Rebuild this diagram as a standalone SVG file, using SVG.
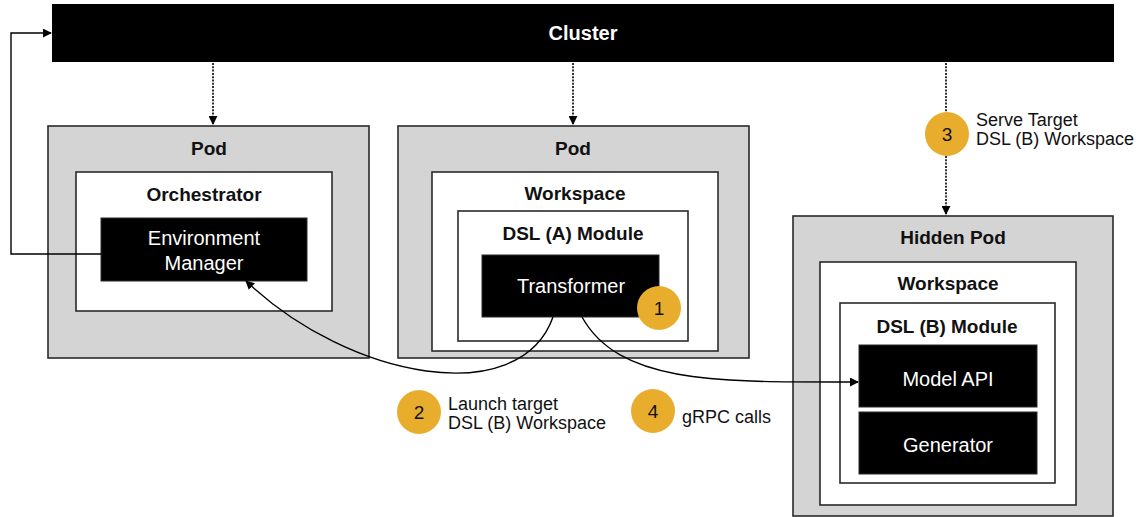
<svg xmlns="http://www.w3.org/2000/svg" width="1138" height="517" viewBox="0 0 1138 517">
  <style>
    .pod { fill: #d4d4d4; stroke: #2a2a2a; stroke-width: 1.6; }
    .inner { fill: #ffffff; stroke: #2a2a2a; stroke-width: 1.6; }
    .comp { fill: #000000; stroke: #2a2a2a; stroke-width: 1; }
    .title { font-family: "Liberation Sans", Arial, sans-serif; font-size: 19px; font-weight: bold; fill: #111; text-anchor: middle; }
    .ctext { font-family: "Liberation Sans", Arial, sans-serif; font-size: 20px; fill: #fff; text-anchor: middle; }
    .badge { fill: #e9ad2e; }
    .bnum { font-family: "Liberation Sans", Arial, sans-serif; font-size: 19px; fill: #111; text-anchor: middle; }
    .note { font-family: "Liberation Sans", Arial, sans-serif; font-size: 18px; fill: #111; }
    .link { fill: none; stroke: #000; stroke-width: 1.4; }
    .dotted { fill: none; stroke: #000; stroke-width: 1.6; stroke-dasharray: 2 1.3; }
  </style>
  <defs>
    <marker id="arrow" viewBox="0 0 10 10" refX="9" refY="5" markerWidth="9" markerHeight="9" markerUnits="userSpaceOnUse" orient="auto">
      <path d="M0,0 L10,5 L0,10 z" fill="#000"/>
    </marker>
  </defs>

  <!-- Cluster -->
  <g id="cluster">
    <rect x="52" y="4" width="1062" height="58" fill="#000"/>
    <text x="583" y="40" class="ctext" font-size="19" font-weight="bold">Cluster</text>
  </g>

  <!-- Pod with orchestrator -->
  <g id="pod-orchestrator">
    <rect class="pod" x="48" y="126" width="321" height="232"/>
    <text class="title" x="209" y="155">Pod</text>
    <rect class="inner" x="76" y="172" width="256" height="139"/>
    <text class="title" x="204" y="201">Orchestrator</text>
  </g>
  <g id="environment-manager">
    <rect class="comp" x="101" y="218" width="206" height="63"/>
    <text class="ctext" x="204" y="245">Environment</text>
    <text class="ctext" x="204" y="270">Manager</text>
  </g>

  <!-- Pod with workspace A -->
  <g id="pod-workspace-a">
    <rect class="pod" x="398" y="126" width="351" height="232"/>
    <text class="title" x="573" y="155">Pod</text>
    <rect class="inner" x="432" y="172" width="286" height="179"/>
    <text class="title" x="575" y="200">Workspace</text>
    <rect class="inner" x="458" y="211" width="230" height="130"/>
    <text class="title" x="573" y="240">DSL (A) Module</text>
  </g>
  <g id="transformer">
    <rect class="comp" x="482" y="255" width="177" height="62"/>
    <text class="ctext" x="571" y="293">Transformer</text>
  </g>

  <!-- Hidden pod with workspace B -->
  <g id="hidden-pod">
    <rect class="pod" x="793" y="216" width="320" height="300"/>
    <text class="title" x="953" y="244">Hidden Pod</text>
    <rect class="inner" x="820" y="262" width="256" height="243"/>
    <text class="title" x="948" y="290">Workspace</text>
    <rect class="inner" x="840" y="303" width="215" height="180"/>
    <text class="title" x="947" y="333">DSL (B) Module</text>
  </g>
  <g id="model-api">
    <rect class="comp" x="859" y="345" width="178" height="62"/>
    <text class="ctext" x="948" y="386">Model API</text>
  </g>
  <g id="generator">
    <rect class="comp" x="859" y="412" width="178" height="62"/>
    <text class="ctext" x="948" y="452">Generator</text>
  </g>

  <!-- Connectors -->
  <g id="connectors">
    <path class="link" d="M101,254 L11,254 L11,33 L51,33" marker-end="url(#arrow)"/>
    <path class="dotted" d="M213,63 L213,124" marker-end="url(#arrow)"/>
    <path class="dotted" d="M573,63 L573,124" marker-end="url(#arrow)"/>
    <path class="dotted" d="M946,63 L946,112"/>
    <path class="dotted" d="M946,156 L946,214" marker-end="url(#arrow)"/>
    <path class="link" d="M553,317 C520,410 350,380 246,281" marker-end="url(#arrow)"/>
    <path class="link" d="M582,317 C620,385 720,382 858,382" marker-end="url(#arrow)"/>
  </g>

  <!-- Step badges -->
  <g id="badge-1">
    <circle class="badge" cx="659" cy="308" r="22"/>
    <text class="bnum" x="659" y="315">1</text>
  </g>
  <g id="badge-2">
    <circle class="badge" cx="419" cy="412" r="22"/>
    <text class="bnum" x="419" y="419">2</text>
    <text class="note" x="448" y="410">Launch target</text>
    <text class="note" x="448" y="429">DSL (B) Workspace</text>
  </g>
  <g id="badge-3">
    <circle class="badge" cx="947" cy="134" r="22"/>
    <text class="bnum" x="947" y="141">3</text>
    <text class="note" x="976" y="126">Serve Target</text>
    <text class="note" x="976" y="145">DSL (B) Workspace</text>
  </g>
  <g id="badge-4">
    <circle class="badge" cx="653" cy="411" r="22"/>
    <text class="bnum" x="653" y="418">4</text>
    <text class="note" x="682" y="423">gRPC calls</text>
  </g>
</svg>
